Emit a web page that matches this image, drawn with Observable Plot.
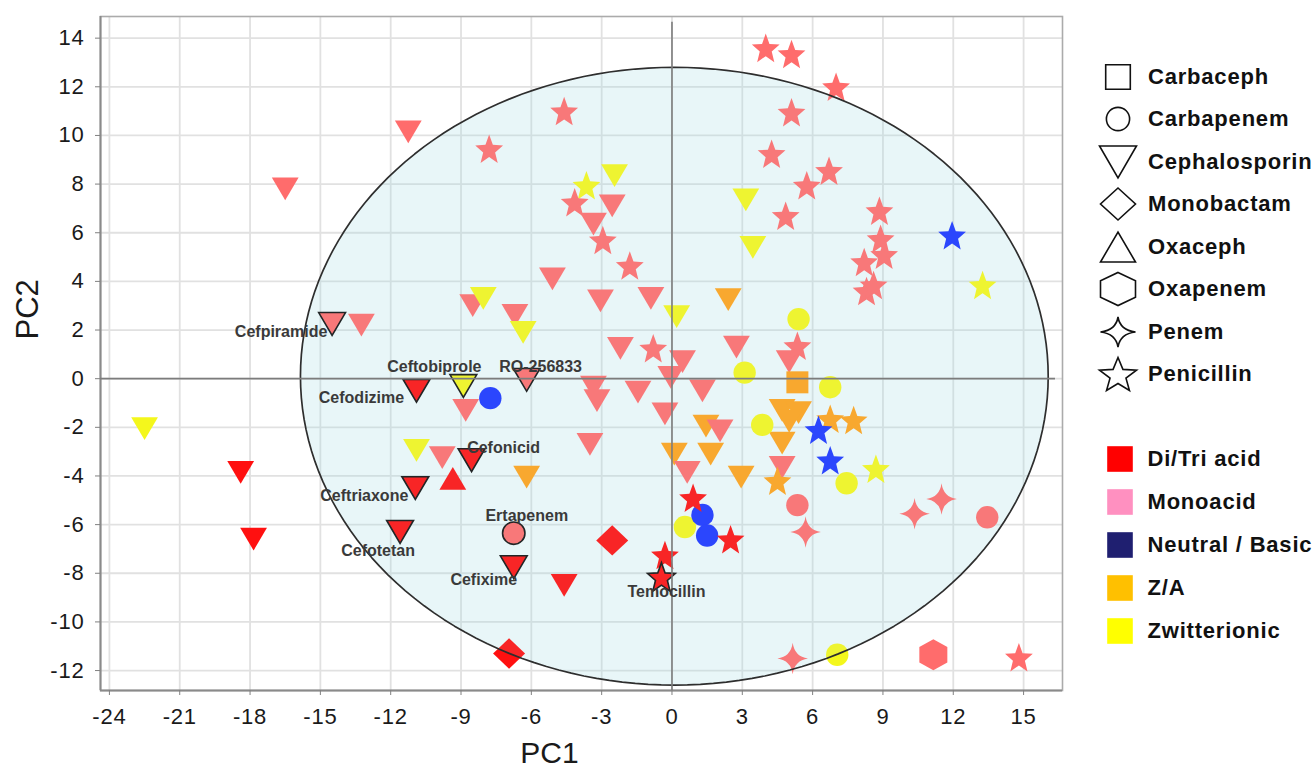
<!DOCTYPE html>
<html lang="en">
<head>
<meta charset="utf-8">
<title>PCA scores of β-lactam antibiotics</title>
<script src="https://cdn.jsdelivr.net/npm/d3@7"></script>
<script src="https://cdn.jsdelivr.net/npm/@observablehq/plot@0.6"></script>
<style>
  html, body { margin: 0; padding: 0; background: #fff; }
  #chart { position: relative; width: 1314px; height: 776px; overflow: hidden;
           font-family: "Liberation Sans", Arial, Helvetica, sans-serif; }
  #chart > svg { position: absolute; left: 0; top: 0; }
  #chart g[aria-label="x-axis tick label"] text,
  #chart g[aria-label="y-axis tick label"] text { letter-spacing: 0.8px; }
  #chart g[aria-label="point label"] text { letter-spacing: 0.9px; }
  #chart g[aria-label="x title"] text { letter-spacing: 1.5px; }
  .key { position: absolute; height: 42px; display: flex; align-items: center; }
  .key svg { flex: none; overflow: visible; }
  .key span { font-weight: bold; font-size: 22px; letter-spacing: 0.8px; color: #111;
              white-space: nowrap; line-height: 1; }
</style>
</head>
<body>
<div id="chart"></div>
<script>
// ---------------------------------------------------------------------------
// Data: PCA scores [PC1, PC2, charge code, optional compound name]
// charge codes: D = Di/Tri acid, M = Monoacid, N = Neutral / Basic,
//               A = Z/A, Z = Zwitterionic
// ---------------------------------------------------------------------------
const families = ["Carbaceph", "Carbapenem", "Cephalosporin", "Monobactam",
                  "Oxaceph", "Oxapenem", "Penem", "Penicillin"];

const chargeCodes = ["D", "M", "N", "A", "Z"];
const chargeNames = ["Di/Tri acid", "Monoacid", "Neutral / Basic", "Z/A", "Zwitterionic"];

const xTicks = [-24, -21, -18, -15, -12, -9, -6, -3, 0, 3, 6, 9, 12, 15];
const yTicks = [-12, -10, -8, -6, -4, -2, 0, 2, 4, 6, 8, 10, 12, 14];

const cephalosporin = [
  [-22.5, -2.05, "Z"], [-18.4, -3.85, "D"], [-17.85, -6.6, "D"],
  [-16.5, 7.8, "M"], [-11.25, 10.15, "M"],
  [-14.5, 2.25, "M", "Cefpiramide"], [-13.25, 2.2, "M"],
  [-10.9, -0.5, "D", "Cefodizime"], [-8.9, -0.3, "Z", "Ceftobiprole"],
  [-6.2, -0.05, "M", "RO-256833"], [-8.8, -1.3, "M"],
  [-10.9, -2.95, "Z"], [-9.8, -3.25, "M"], [-8.55, -3.35, "D", "Cefonicid"],
  [-10.95, -4.5, "D", "Ceftriaxone"], [-11.6, -6.3, "D", "Cefotetan"],
  [-6.75, -7.75, "D", "Cefixime"], [-4.6, -8.5, "D"], [-6.2, -4.05, "A"],
  [-8.5, 3.0, "M"], [-8.05, 3.3, "Z"], [-6.7, 2.6, "M"], [-6.35, 1.9, "Z"],
  [-5.1, 4.1, "M"], [-3.05, 3.2, "M"], [-0.9, 3.3, "M"], [0.2, 2.55, "Z"],
  [2.4, 3.25, "A"], [-2.2, 1.25, "M"], [0.45, 0.7, "M"], [2.75, 1.3, "M"],
  [-0.05, 0.05, "M"], [-3.35, -0.35, "M"], [-3.2, -0.9, "M"], [-1.45, -0.55, "M"],
  [1.3, -0.5, "M"], [-0.3, -1.45, "M"], [-3.5, -2.7, "M"], [1.45, -1.95, "A"],
  [2.05, -2.15, "M"], [0.1, -3.1, "A"], [0.65, -3.85, "M"], [1.65, -3.1, "A"],
  [2.95, -4.05, "A"], [4.7, -1.3, "A"], [5.4, -1.4, "A"], [5.0, -1.75, "A"],
  [4.7, -2.65, "A"], [4.7, -3.65, "M"], [5.0, 0.7, "M"],
  [-2.55, 7.1, "M"], [-3.35, 6.35, "M"], [-2.45, 8.35, "Z"],
  [3.15, 7.35, "Z"], [3.45, 5.4, "Z"]
];

const oxaceph = [[-9.35, -4.1, "D"]];

const monobactam = [[-2.55, -6.65, "D"], [-6.95, -11.3, "D"]];

const carbaceph = [[5.35, -0.15, "A"]];

const carbapenem = [
  [-7.75, -0.8, "N"], [-6.75, -6.35, "M", "Ertapenem"], [0.55, -6.1, "Z"],
  [1.3, -5.6, "N"], [1.5, -6.45, "N"], [3.1, 0.25, "Z"], [5.4, 2.45, "Z"],
  [6.75, -0.35, "Z"], [3.85, -1.9, "Z"], [7.45, -4.3, "Z"], [5.35, -5.2, "M"],
  [13.45, -5.7, "M"], [7.05, -11.35, "Z"]
];

const oxapenem = [[11.15, -11.35, "M"]];

const penem = [[5.7, -6.3, "M"], [10.35, -5.55, "M"], [11.5, -4.95, "M"], [5.15, -11.5, "M"]];

const penicillin = [
  [4.0, 13.6, "M"], [5.1, 13.35, "M"], [7.0, 12.0, "M"], [5.1, 10.95, "M"],
  [4.25, 9.25, "M"], [5.75, 7.95, "M"], [6.7, 8.55, "M"], [4.85, 6.7, "M"],
  [8.85, 6.9, "M"], [8.9, 5.75, "M"], [9.05, 5.1, "M"], [8.2, 4.8, "M"],
  [8.3, 3.6, "M"], [8.6, 3.85, "M"], [-4.6, 11.0, "M"], [-7.8, 9.45, "M"],
  [-3.65, 7.95, "Z"], [-4.15, 7.25, "M"], [-2.95, 5.7, "M"], [-1.8, 4.65, "M"],
  [-0.8, 1.25, "M"], [5.35, 1.35, "M"], [11.95, 5.9, "N"], [13.25, 3.85, "Z"],
  [6.75, -1.65, "A"], [7.75, -1.7, "A"], [6.25, -2.1, "N"], [6.75, -3.35, "N"],
  [4.5, -4.2, "A"], [8.7, -3.7, "Z"], [0.9, -4.9, "D"], [2.5, -6.6, "D"],
  [-0.3, -7.25, "D"], [-0.45, -8.15, "D", "Temocillin"], [14.8, -11.45, "M"]
];

// ---------------------------------------------------------------------------
// Styling
// ---------------------------------------------------------------------------
const pointFill = ["#ff1010", "#ff6c6c", "#1b35ff", "#ffa21a", "#f4f71c"];   // marks
const keyFill   = ["#ff0000", "#ff90c0", "#1f1f70", "#ffc000", "#ffff00"];   // colour key

const xDomain = [-24.38, 16.66];
const yDomain = [-12.82, 14.89];
const confidence = {cx: 0.1, cy: 0.1, rx: 15.95, ry: 12.7};   // Hotelling ellipse
const zeroLineEnds = {x: 16.36, y: 14.65};

// Marker shapes drawn into a path context with half-width rx, half-height ry
const poly = pts => (c, rx, ry) => {
  pts.forEach(([px, py], i) => i ? c.lineTo(px * rx, py * ry) : c.moveTo(px * rx, py * ry));
  c.closePath();
};
const starPts = d3.range(10).map(k => {
  const a = k * Math.PI / 5, rad = k % 2 ? 0.43 : 1;
  return [rad * Math.sin(a), -rad * Math.cos(a) + 0.095];
});
const shapes = {
  square: (c, rx, ry) => c.rect(-rx, -ry, 2 * rx, 2 * ry),
  circle: (c, rx) => { c.moveTo(rx, 0); c.arc(0, 0, rx, 0, 2 * Math.PI); c.closePath(); },
  downTriangle: poly([[-1, -1], [1, -1], [0, 1]]),
  upTriangle: poly([[-1, 1], [1, 1], [0, -1]]),
  diamond: poly([[0, -1], [1, 0], [0, 1], [-1, 0]]),
  hexagon: poly([[0, -1], [1, -0.5], [1, 0.5], [0, 1], [-1, 0.5], [-1, -0.5]]),
  fourStar: (c, rx, ry) => {
    const k = 0.12;
    c.moveTo(0, -ry);
    c.quadraticCurveTo(k * rx, -k * ry, rx, 0);
    c.quadraticCurveTo(k * rx, k * ry, 0, ry);
    c.quadraticCurveTo(-k * rx, k * ry, -rx, 0);
    c.quadraticCurveTo(-k * rx, -k * ry, 0, -ry);
    c.closePath();
  },
  star: poly(starPts)
};

const markerStyle = {
  Cephalosporin: {shape: "downTriangle", r: 13.4, aspect: 0.85, key: [18.5, 16]},
  Oxaceph:       {shape: "upTriangle",   r: 13.4, aspect: 0.85, key: [17.5, 15]},
  Monobactam:    {shape: "diamond",      r: 16,   aspect: 0.95, key: [17.5, 16]},
  Carbaceph:     {shape: "square",       r: 11,   aspect: 1,    key: [12.3, 12.2]},
  Carbapenem:    {shape: "circle",       r: 11.2, aspect: 1,    key: [11.6, 11.6]},
  Oxapenem:      {shape: "hexagon",      r: 14,   aspect: 1.1,  key: [17.5, 16.5]},
  Penem:         {shape: "fourStar",     r: 15.3, aspect: 1.03, key: [17.5, 15]},
  Penicillin:    {shape: "star",         r: 14.6, aspect: 1.08, key: [19.5, 18.2]}
};

const symbolOf = f => {
  const {shape, aspect} = markerStyle[f];
  return {draw(c, size) { const r = Math.sqrt(size / Math.PI); shapes[shape](c, r, r * aspect); }};
};

// label nudges (px) relative to the marker
const labelNudge = {
  "Cefpiramide": [-51, 8], "Ceftobiprole": [-29, -19], "RO-256833": [14, -13],
  "Cefodizime": [-55, 7], "Cefonicid": [32, -12], "Ceftriaxone": [-51, 8],
  "Cefotetan": [-22, 19], "Ertapenem": [13, -17], "Cefixime": [-30, 13],
  "Temocillin": [5, 15]
};

// ---------------------------------------------------------------------------
// Assemble the table
// ---------------------------------------------------------------------------
const seriesByFamily = {Cephalosporin: cephalosporin, Oxaceph: oxaceph, Monobactam: monobactam,
  Carbaceph: carbaceph, Carbapenem: carbapenem, Oxapenem: oxapenem, Penem: penem, Penicillin: penicillin};
const drawOrder = ["Cephalosporin", "Oxaceph", "Monobactam", "Carbaceph",
                   "Carbapenem", "Oxapenem", "Penem", "Penicillin"];

const points = drawOrder.flatMap(f => seriesByFamily[f].map(([x, y, c, name]) => ({
  family: f, pc1: x, pc2: y, charge: chargeNames[chargeCodes.indexOf(c)], name
})));
const named = points.filter(d => d.name);

const ellipsePts = d3.range(0, 361, 2).map(a => {
  const t = a * Math.PI / 180;
  return {x: confidence.cx + confidence.rx * Math.cos(t), y: confidence.cy + confidence.ry * Math.sin(t)};
});

// ---------------------------------------------------------------------------
// Plot
// ---------------------------------------------------------------------------
const font = "'Liberation Sans', Arial, Helvetica, sans-serif";

const plot = Plot.plot({
  width: 1314,
  height: 776,
  marginLeft: 100,
  marginRight: 252,
  marginTop: 16,
  marginBottom: 86,
  style: {fontFamily: font, background: "transparent", overflow: "visible"},
  x: {domain: xDomain},
  y: {domain: yDomain},
  color: {domain: chargeNames, range: pointFill},
  marks: [
    // grid
    Plot.ruleX(xTicks, {stroke: "#e1e1e1", strokeWidth: 1.8}),
    Plot.ruleY(yTicks, {stroke: "#e1e1e1", strokeWidth: 1.8}),
    // ellipse body, under the scores
    Plot.line(ellipsePts, {x: "x", y: "y", fill: "rgb(150,215,225)", fillOpacity: 0.16, stroke: "none"}),
    Plot.frame({stroke: "#ababab", strokeWidth: 1.6}),
    Plot.ruleX([xDomain[0]], {stroke: "#8a8a8a", strokeWidth: 2}),
    Plot.ruleY([yDomain[0]], {stroke: "#8a8a8a", strokeWidth: 2}),
    // axes
    Plot.axisX(xTicks, {anchor: "bottom", tickSize: 5, tickPadding: 13, fontSize: 22,
      tickFormat: d => String(d), stroke: "#808080", color: "#1a1a1a", label: null}),
    Plot.axisY(yTicks, {anchor: "left", tickSize: 5, tickPadding: 11, fontSize: 22,
      tickFormat: d => String(d), stroke: "#808080", color: "#1a1a1a", label: null}),
    // scores, one layer per β-lactam family
    ...drawOrder.map(f => Plot.dot(points.filter(d => d.family === f), {
      x: "pc1", y: "pc2", fill: "charge", stroke: "none",
      symbol: symbolOf(f), r: markerStyle[f].r
    })),
    // outlined (named) compounds
    ...drawOrder.map(f => Plot.dot(named.filter(d => d.family === f), {
      x: "pc1", y: "pc2", fill: "charge", stroke: "#111", strokeWidth: 1.6,
      symbol: symbolOf(f), r: markerStyle[f].r
    })),
    // light tint and outline of the ellipse over the scores
    Plot.line(ellipsePts, {x: "x", y: "y", fill: "rgb(185,225,232)", fillOpacity: 0.1,
      stroke: "#2e2e2e", strokeWidth: 1.7}),
    // origin lines
    Plot.ruleY([0], {x1: xDomain[0], x2: zeroLineEnds.x, stroke: "#7c7c7c", strokeWidth: 1.6}),
    Plot.ruleX([0], {y1: yDomain[0], y2: zeroLineEnds.y, stroke: "#7c7c7c", strokeWidth: 1.6}),
    // compound names
    ...named.map(d => Plot.text([d], {
      x: "pc1", y: "pc2", text: "name",
      dx: labelNudge[d.name][0], dy: labelNudge[d.name][1],
      fontSize: 16, fontWeight: "bold", fill: "#3a3a3a", ariaLabel: "point label"
    })),
    // axis titles
    Plot.text(["PC1"], {frameAnchor: "bottom", text: d => d, dx: -32, dy: 72,
      fontSize: 30, fill: "#1a1a1a", ariaLabel: "x title"}),
    Plot.text(["PC2"], {frameAnchor: "left", text: d => d, rotate: -90, dx: -72, dy: -14,
      fontSize: 31, fill: "#1a1a1a", ariaLabel: "y title"})
  ]
});

const chart = document.getElementById("chart");
chart.appendChild(plot);

// ---------------------------------------------------------------------------
// Keys: shape (family) and colour (charge state)
// ---------------------------------------------------------------------------
const svgNS = "http://www.w3.org/2000/svg";
function keyRow(top, left, gap, drawIcon, label) {
  const row = document.createElement("div");
  row.className = "key";
  row.style.top = (top - 21) + "px";
  row.style.left = left + "px";
  const svg = document.createElementNS(svgNS, "svg");
  svg.setAttribute("width", 42);
  svg.setAttribute("height", 42);
  svg.setAttribute("viewBox", "-21 -21 42 42");
  drawIcon(svg);
  const span = document.createElement("span");
  span.style.marginLeft = gap + "px";
  span.textContent = label;
  row.append(svg, span);
  chart.appendChild(row);
}

families.forEach((f, i) => {
  const {shape, key} = markerStyle[f];
  keyRow(76.5 + i * 42.5, 1097, 9, svg => {
    const p = d3.path();
    shapes[shape](p, key[0], key[1]);
    const path = document.createElementNS(svgNS, "path");
    path.setAttribute("d", p.toString());
    path.setAttribute("fill", "#fff");
    path.setAttribute("stroke", "#111");
    path.setAttribute("stroke-width", 1.6);
    svg.appendChild(path);
  }, f);
});

chargeNames.forEach((c, i) => {
  keyRow(459 + i * 43, 1098.5, 7, svg => {
    const rect = document.createElementNS(svgNS, "rect");
    rect.setAttribute("x", -12.8);
    rect.setAttribute("y", -12.8);
    rect.setAttribute("width", 25.6);
    rect.setAttribute("height", 25.6);
    rect.setAttribute("fill", keyFill[i]);
    svg.appendChild(rect);
  }, c);
});
</script>
</body>
</html>
